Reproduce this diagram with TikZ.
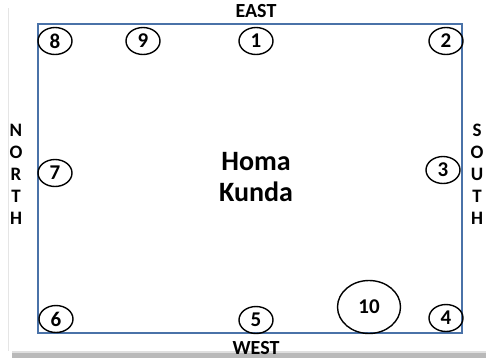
\documentclass[tikz,border=0pt]{standalone}
\usepackage{fontspec}
\setmainfont{Carlito}
\usetikzlibrary{shapes.geometric}
\definecolor{frame}{HTML}{4A72A8}
\begin{document}
\begin{tikzpicture}[x=1pt,y=-1pt,
  num/.style={draw=black,line width=1.4pt,ellipse,minimum width=34pt,minimum height=27pt,inner sep=0pt,font=\fontsize{21}{21}\selectfont\bfseries},
  dir/.style={font=\fontsize{20}{20}\selectfont\bfseries,inner sep=0pt},
  let/.style={font=\fontsize{19}{19}\selectfont\bfseries,inner sep=0pt},
  title/.style={font=\fontsize{28}{31}\selectfont\bfseries,align=center,inner sep=0pt}]
\useasboundingbox (0,0) rectangle (486,362);
% shadow
\fill[gray!55] (12,353) rectangle (486,358);
\fill[gray!25] (12,351) rectangle (486,353);
\draw[gray!20,line width=1pt] (8,8) -- (8,351);
% frame
\node[draw=frame,line width=1.6pt,minimum width=424pt,minimum height=309pt,inner sep=0pt] (room) at (250,178.5) {};
% directions
\node[dir] (east) at (256,11) {EAST};
\node[dir] (west) at (256,348) {WEST};
\node[let] (n1) at (16,130) {N};
\node[let] (n2) at (16,152) {O};
\node[let] (n3) at (16,174) {R};
\node[let] (n4) at (16,196) {T};
\node[let] (n5) at (16,218) {H};
\node[let] (s1) at (477,130) {S};
\node[let] (s2) at (477,152) {O};
\node[let] (s3) at (477,174) {U};
\node[let] (s4) at (477,196) {T};
\node[let] (s5) at (477,218) {H};
% title
\node[title] (homa) at (256,177) {Homa\\Kunda};
% numbered positions
\node[num] (c8) at (55,41) {8};
\node[num] (c9) at (143,41) {9};
\node[num] (c1) at (256,41) {1};
\node[num] (c2) at (446,41) {2};
\node[num] (c7) at (55,173) {7};
\node[num] (c3) at (443,170) {3};
\node[num] (c6) at (56,319) {6};
\node[num] (c5) at (256,320) {5};
\node[num,minimum width=63pt,minimum height=53pt] (c10) at (369,307) {10};
\node[num] (c4) at (446,318) {4};
\end{tikzpicture}
\end{document}
